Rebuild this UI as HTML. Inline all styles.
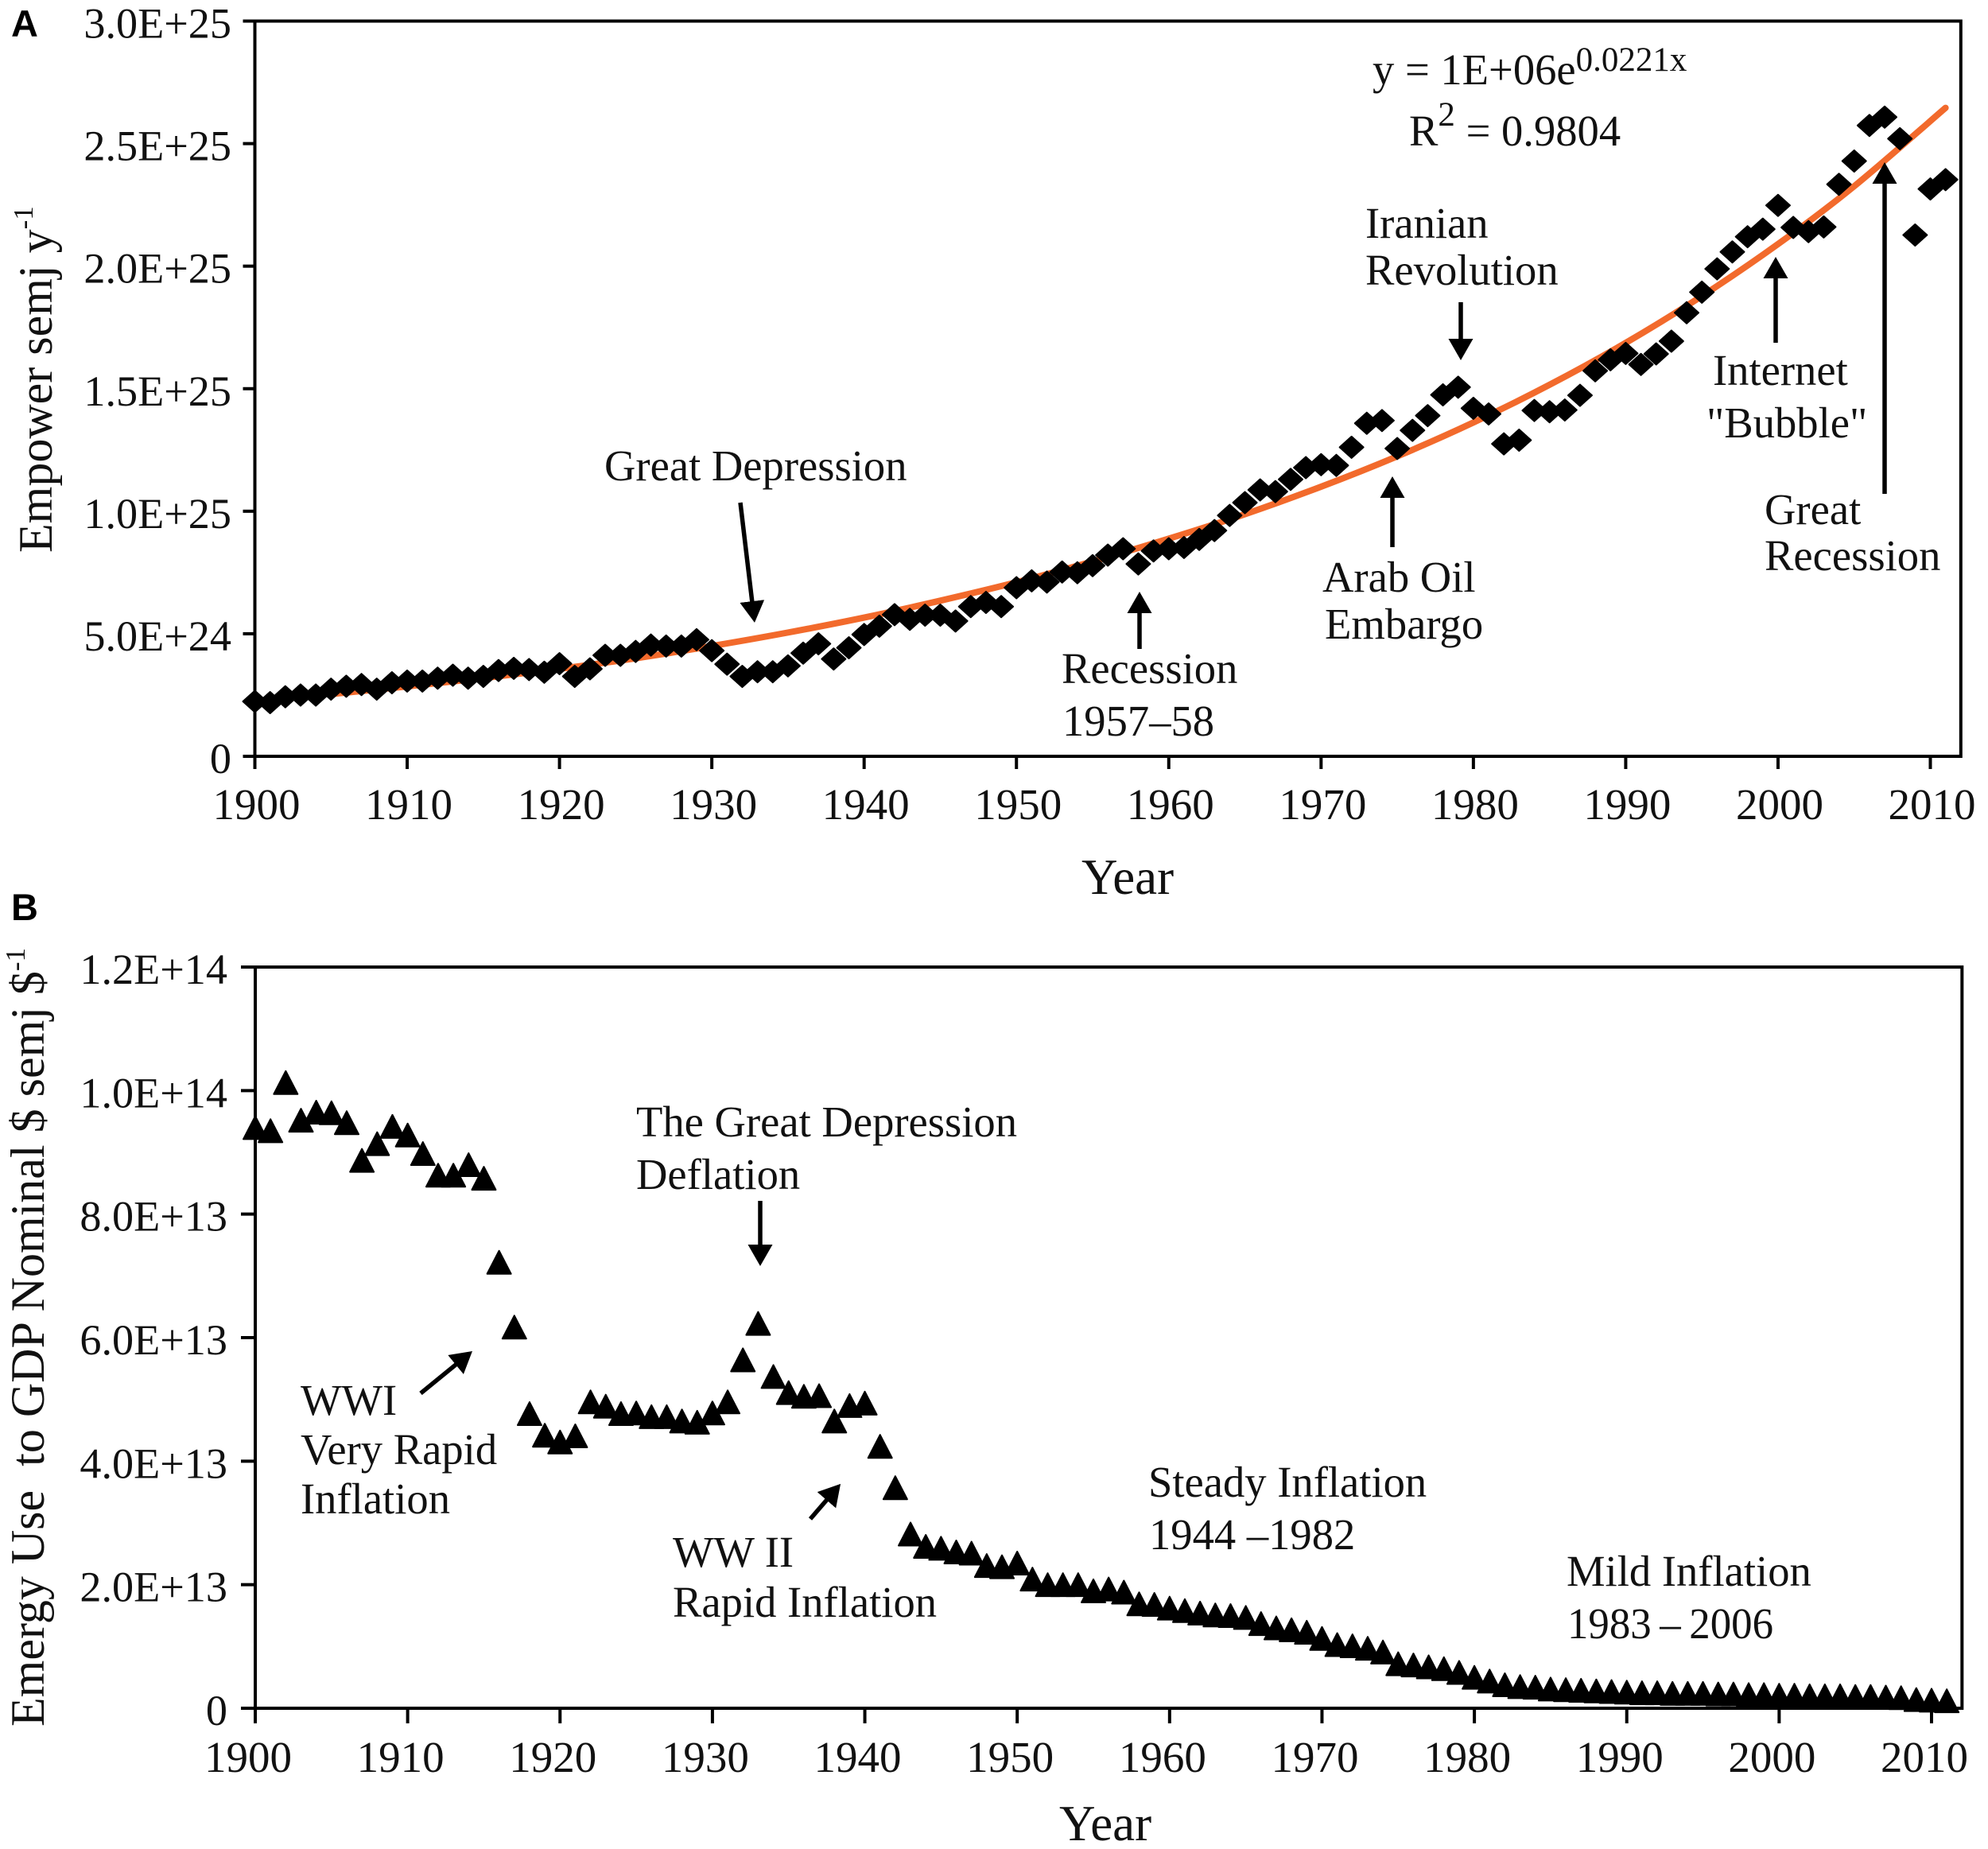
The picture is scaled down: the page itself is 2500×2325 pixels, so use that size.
<!DOCTYPE html>
<html lang="en">
<head>
<meta charset="utf-8">
<title>Empower and Emergy Use to GDP, 1900–2011</title>
<style>
html,body{margin:0;padding:0;background:#fff;}
svg{display:block;}
text{font-family:"Liberation Serif",serif;font-size:54.6px;fill:#111;}
.tick-y{font-size:54.2px;}
.tick-x{font-size:55px;}
.panel{font-family:"Liberation Sans",sans-serif;font-weight:bold;font-size:47px;fill:#000;}
.sup{font-size:35px;}
.axis-title{font-size:60px;}
.year{font-size:63px;}
.arrow{stroke:#000;stroke-width:5.5;fill:none;}
</style>
</head>
<body>
<svg id="fig" xmlns="http://www.w3.org/2000/svg" width="2500" height="2325" viewBox="0 0 2500 2325">
  <defs>
    <marker id="ah" markerUnits="userSpaceOnUse" markerWidth="30" markerHeight="34" refX="7" refY="16" orient="auto">
      <path d="M0,0.5 L27,16 L0,31.5 Z" fill="#000"/>
    </marker>
  </defs>
  <rect x="0" y="0" width="2500" height="2325" fill="#fff"/>
  <g id="panelA"></g>
  <g id="panelB"></g>

  <text class="panel" x="14" y="46">A</text>
  <text class="panel" x="14" y="1157">B</text>

  <text class="axis-title" transform="translate(65,695) rotate(-90)">Empower semj y<tspan class="sup" dy="-24">-1</tspan></text>
  <text class="year" x="1360" y="1124">Year</text>
  <text class="axis-title" transform="translate(55,2171) rotate(-90)">Emergy Use&#160;&#160;to GDP Nominal $ semj $<tspan class="sup" dy="-24">-1</tspan></text>
  <text class="year" x="1332" y="2314">Year</text>

  <text x="1726" y="106">y = 1E+06e<tspan dy="-17" style="font-size:43px">0.0221x</tspan></text>
  <text x="1772" y="183">R<tspan dy="-25" style="font-size:43px">2</tspan><tspan dy="25"> = 0.9804</tspan></text>

  <g>
    <text x="760" y="604">Great Depression</text>
    <line class="arrow" x1="931" y1="632" x2="946.6" y2="763" marker-end="url(#ah)"/>
    <text x="1335" y="859">Recession</text>
    <text x="1336" y="925">1957–58</text>
    <line class="arrow" x1="1433" y1="816" x2="1433" y2="764" marker-end="url(#ah)"/>
    <text x="1663" y="744">Arab Oil</text>
    <text x="1666" y="803">Embargo</text>
    <line class="arrow" x1="1751" y1="688" x2="1751" y2="619" marker-end="url(#ah)"/>
    <text x="1717" y="299">Iranian</text>
    <text x="1717" y="358">Revolution</text>
    <line class="arrow" x1="1837" y1="380" x2="1837" y2="433" marker-end="url(#ah)"/>
    <text x="2154" y="484">Internet</text>
    <text x="2146" y="550">"Bubble"</text>
    <line class="arrow" x1="2233" y1="431" x2="2233" y2="343" marker-end="url(#ah)"/>
    <text x="2219" y="659">Great</text>
    <text x="2219" y="717">Recession</text>
    <line class="arrow" x1="2370" y1="621" x2="2370" y2="224" marker-end="url(#ah)"/>
  </g>

  <g>
    <text x="800" y="1429">The Great Depression</text>
    <text x="800" y="1495">Deflation</text>
    <line class="arrow" x1="956" y1="1510" x2="956" y2="1572" marker-end="url(#ah)"/>
    <text x="378" y="1779">WWI</text>
    <text x="378" y="1841">Very Rapid</text>
    <text x="378" y="1903">Inflation</text>
    <line class="arrow" x1="529" y1="1752" x2="578.5" y2="1711.6" marker-end="url(#ah)"/>
    <text x="846" y="1970">WW II</text>
    <text x="846" y="2033">Rapid Inflation</text>
    <line class="arrow" x1="1019" y1="1910" x2="1044" y2="1881" marker-end="url(#ah)"/>
    <text x="1444" y="1882">Steady Inflation</text>
    <text x="1445" y="1948">1944 –1982</text>
    <text x="1970" y="1994">Mild Inflation</text>
    <text x="1971" y="2060" textLength="259" lengthAdjust="spacingAndGlyphs">1983&#8201;–&#8201;2006</text>
  </g>
</svg>
<script>
// Shared x axis
const startYear = 1900;
const xTickYears = [1900, 1910, 1920, 1930, 1940, 1950, 1960, 1970, 1980, 1990, 2000, 2010];

// Panel A: empower, in units of 1E+25 semj per year, one value per year from 1900
const empowerValues = [
  .224,.219,.243,.25,.25,.274,.286,.293,.274,.30,
  .307,.307,.319,.331,.319,.326,.35,.359,.354,.343,
  .378,.326,.357,.412,.412,.428,.454,.45,.45,.476,
  .431,.376,.326,.345,.345,.369,.421,.459,.397,.443,
  .497,.531,.578,.559,.576,.576,.552,.611,.628,.611,
  .688,.716,.711,.752,.749,.778,.821,.847,.785,.838,
  .847,.852,.885,.921,.983,1.035,1.087,1.08,1.13,1.178,
  1.19,1.187,1.261,1.359,1.37,1.256,1.33,1.39,1.475,1.506,
  1.42,1.397,1.275,1.29,1.411,1.406,1.413,1.473,1.573,1.618,
  1.644,1.599,1.642,1.694,1.81,1.894,1.989,2.058,2.12,2.151,
  2.248,2.158,2.141,2.16,2.334,2.429,2.574,2.608,2.52,2.127,
  2.315,2.353
];
// Fitted trend line
const trendYears = [1905,1910,1915,1920,1925,1930,1935,1940,1945,1950,1955,1960,1965,1970,1975,1980,1985,1990,1995,2000,2005,2011];
const trendValues = [.254,.285,.319,.357,.40,.45,.505,.566,.635,.71,.795,.888,.988,1.10,1.224,1.362,1.516,1.687,1.878,2.09,2.326,2.646];
const yTickValuesA = [0, .5, 1, 1.5, 2, 2.5, 3];
const yTickLabelsA = ['0', '5.0E+24', '1.0E+25', '1.5E+25', '2.0E+25', '2.5E+25', '3.0E+25'];

// Panel B: emergy use to nominal GDP, in units of 1E+13 semj per dollar, one value per year from 1900
const emergyRatioValues = [
  9.40,9.35,10.13,9.52,9.65,9.64,9.48,8.87,9.14,9.42,
  9.28,8.98,8.63,8.63,8.80,8.58,7.22,6.17,4.77,4.42,
  4.31,4.41,4.96,4.89,4.77,4.78,4.72,4.72,4.65,4.63,
  4.78,4.96,5.64,6.23,5.37,5.11,5.05,5.06,4.65,4.90,
  4.94,4.24,3.57,2.82,2.62,2.59,2.53,2.51,2.31,2.29,
  2.35,2.09,2.0,2.0,2.0,1.90,1.93,1.88,1.69,1.68,
  1.62,1.58,1.54,1.51,1.50,1.47,1.37,1.30,1.27,1.23,
  1.13,1.03,1.01,.97,.91,.72,.70,.67,.64,.58,
  .50,.44,.38,.35,.34,.31,.30,.29,.28,.27,
  .26,.25,.25,.24,.24,.24,.23,.23,.22,.22,
  .21,.21,.20,.20,.20,.19,.19,.18,.17,.14,
  .13,.12
];
const yTickValuesB = [0, 2, 4, 6, 8, 10, 12];
const yTickLabelsB = ['0', '2.0E+13', '4.0E+13', '6.0E+13', '8.0E+13', '1.0E+14', '1.2E+14'];

const NS = 'http://www.w3.org/2000/svg';
function make(parent, tag, attrs) {
  const n = document.createElementNS(NS, tag);
  for (const k in attrs) n.setAttribute(k, attrs[k]);
  parent.appendChild(n);
  return n;
}
function linear(d0, d1, r0, r1) {
  return v => r0 + (v - d0) * (r1 - r0) / (d1 - d0);
}
function smoothPath(pts) {
  let d = 'M' + pts[0][0] + ',' + pts[0][1];
  for (let i = 0; i < pts.length - 1; i++) {
    const p0 = pts[Math.max(0, i - 1)], p1 = pts[i], p2 = pts[i + 1], p3 = pts[Math.min(pts.length - 1, i + 2)];
    d += ' C' + (p1[0] + (p2[0] - p0[0]) / 6) + ',' + (p1[1] + (p2[1] - p0[1]) / 6) + ' ' +
         (p2[0] - (p3[0] - p1[0]) / 6) + ',' + (p2[1] - (p3[1] - p1[1]) / 6) + ' ' + p2[0] + ',' + p2[1];
  }
  return d;
}
function drawAxes(g, o) {
  const frame = make(g, 'rect', {x: o.left, y: o.top, width: o.right - o.left, height: o.bottom - o.top, fill: 'none', stroke: '#000', 'stroke-width': o.sw});
  
  
  o.yVals.forEach((v, i) => {
    const t = make(g, 'line', {x1: o.left - o.yTickLen, x2: o.left, y1: o.y(v), y2: o.y(v), stroke: '#000', 'stroke-width': o.sw});
    
    
    const l = make(g, 'text', {x: o.yLabelX, y: o.y(v) + 21, 'text-anchor': 'end', 'class': 'tick-y'});
    
    
    l.textContent = o.yLabels[i];
  });
  xTickYears.forEach(yr => {
    const t = make(g, 'line', {x1: o.x(yr), x2: o.x(yr), y1: o.bottom, y2: o.bottom + o.xTickLen, stroke: '#000', 'stroke-width': o.sw});
    
    
    const l = make(g, 'text', {x: o.x(yr) + o.xLabelDx, y: o.xLabelY, 'text-anchor': 'middle', 'class': 'tick-x'});
    
    
    l.textContent = String(yr);
  });
}

// Panel A
const gA = document.getElementById('panelA');
const xA = linear(1900, 2010, 320.5, 2427.5);
const yA = linear(0, 3, 951, 26.5);
drawAxes(gA, {left: xA(1900), right: xA(2012), top: yA(3), bottom: yA(0), sw: 4, yTickLen: 15, xTickLen: 16,
  yVals: yTickValuesA, yLabels: yTickLabelsA, x: xA, y: yA, yLabelX: 291, xLabelDx: 2, xLabelY: 1030});
const trendLine = make(gA, 'path', {d: smoothPath(trendYears.map((yr, i) => [xA(yr), yA(trendValues[i])])), fill: 'none', stroke: '#f26a2c', 'stroke-width': 8, 'stroke-linecap': 'round'});


empowerValues.forEach((v, i) => {
  const cx = xA(startYear + i), cy = yA(v);
  const m = make(gA, 'path', {d: `M${cx - 15},${cy} L${cx},${cy - 13.5} L${cx + 15},${cy} L${cx},${cy + 13.5} Z`, fill: '#000', stroke: '#000', 'stroke-width': 2, 'stroke-linejoin': 'round'});
  
  
});

// Panel B
const gB = document.getElementById('panelB');
const xB = linear(1900, 2010, 321, 2429);
const yB = linear(0, 12, 2148, 1216);
drawAxes(gB, {left: xB(1900), right: xB(2012), top: yB(12), bottom: yB(0), sw: 4, yTickLen: 18, xTickLen: 19,
  yVals: yTickValuesB, yLabels: yTickLabelsB, x: xB, y: yB, yLabelX: 286, xLabelDx: -9, xLabelY: 2228});
emergyRatioValues.forEach((v, i) => {
  const cx = xB(startYear + i), cy = yB(v);
  const m = make(gB, 'path', {d: `M${cx},${cy - 14.5} L${cx + 15},${cy + 14.5} L${cx - 15},${cy + 14.5} Z`, fill: '#000', stroke: '#000', 'stroke-width': 2, 'stroke-linejoin': 'round'});
  
  
});
</script>
</body>
</html>
